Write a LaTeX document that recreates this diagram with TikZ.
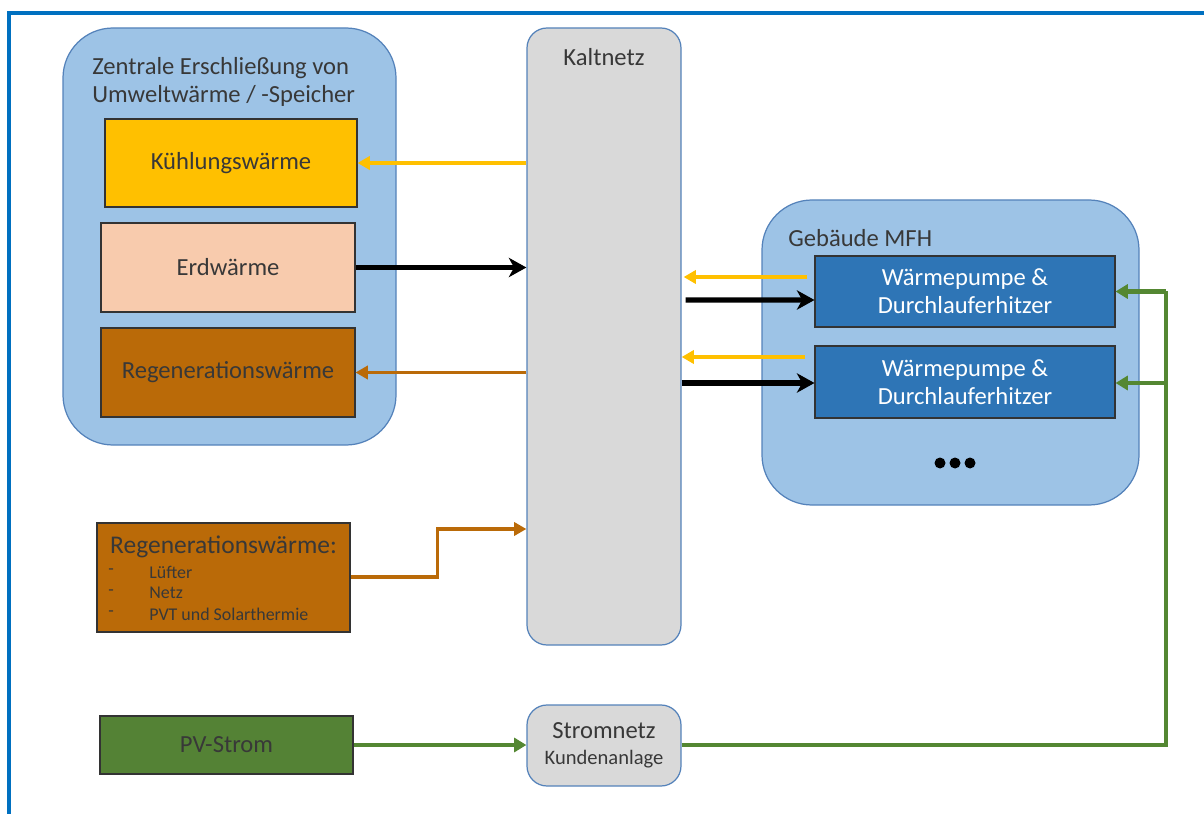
\documentclass[tikz,border=0pt]{standalone}
\usepackage{fontspec}
\setmainfont{Carlito}
\usetikzlibrary{arrows.meta,positioning,calc}
\definecolor{frameBlue}{RGB}{0,112,192}
\definecolor{groupFill}{RGB}{157,195,230}
\definecolor{groupLine}{RGB}{84,130,186}
\definecolor{netzGray}{RGB}{217,217,217}
\definecolor{coolYel}{RGB}{255,192,0}
\definecolor{erdPeach}{RGB}{248,203,173}
\definecolor{regBrown}{RGB}{186,106,8}
\definecolor{pvGreen}{RGB}{84,130,53}
\definecolor{lineGreen}{RGB}{84,135,50}
\definecolor{wpBlue}{RGB}{46,117,182}
\definecolor{ink}{RGB}{56,56,56}

\tikzset{
  wd/.style={minimum width=#1*0.02cm},
  ht/.style={minimum height=#1*0.02cm,inner sep=0pt},
  flat/.style={draw=black!80,line width=0.6pt,text=ink,align=center},
  group/.style={draw=groupLine,fill=groupFill,line width=0.7pt,rounded corners=1cm},
  netz/.style={draw=groupLine,fill=netzGray,line width=0.7pt,rounded corners=0.4cm,text=ink},
  big/.style={font=\fontsize{14}{16}\selectfont},
  small/.style={font=\fontsize{10.2}{12}\selectfont},
  yelArr/.style={coolYel,line width=2.1pt,-{Triangle[length=7pt,width=7.5pt]}},
  blkArr/.style={black,line width=2.9pt,-{Stealth[length=10pt,width=11pt,inset=3pt]}},
  brnArr/.style={regBrown,line width=2.1pt,-{Triangle[length=7pt,width=7.5pt]}},
  grnArr/.style={lineGreen,line width=2.3pt,-{Triangle[length=7pt,width=8pt]}},
}

\begin{document}
\begin{tikzpicture}[x=0.02cm,y=-0.02cm,big]
  \useasboundingbox (0,0) rectangle (1204,814);
  % frame
  \draw[frameBlue,line width=2.3pt] (9,814) -- (9,13) -- (1204,13);
  % containers
  \node[group,wd=333,ht=417] (zentral) at (229.5,236.5) {};
  \node[anchor=north west,align=left,text=ink,inner sep=0pt] (zentralT) at (92,57)
    {Zentrale Erschließung von\\Umweltwärme / -Speicher};
  \node[netz,wd=154,ht=617] (kalt) at (604,336.5) {};
  \node[text=ink] (kaltT) at (604,57) {Kaltnetz};
  \node[group,wd=377,ht=305] (geb) at (950.5,352.5) {};
  \node[anchor=west,text=ink,inner sep=0pt] (gebT) at (788,238) {Gebäude MFH};
  % boxes left
  \node[flat,fill=coolYel,wd=252,ht=88] (kuehl) at (231,163) {Kühlungswärme};
  \node[flat,fill=erdPeach,wd=254,ht=89] (erd) at (228,267.5) {Erdwärme};
  \node[flat,fill=regBrown,wd=254,ht=89] (regen) at (228,372.5) {Regenerationswärme};
  \node[flat,fill=regBrown,wd=253,ht=109] (regext) at (223.5,577.5) {};
  \node[text=ink,font=\fontsize{14.5}{16}\selectfont] (regextT) at (223.5,547) {Regenerationswärme:};
  \foreach [count=\i from 0] \t in {Lüfter,Netz,PVT und Solarthermie} {
    \node[small,text=ink,anchor=west,inner sep=0pt] (dash\i) at (108,{572+\i*21}) {-};
    \node[small,text=ink,anchor=west,inner sep=0pt] (item\i) at (149,{572+\i*21}) {\t};
  }
  \node[flat,fill=pvGreen,wd=253,ht=58] (pv) at (226.5,745) {PV-Strom};
  \node[netz,wd=154,ht=81,align=center] (strom) at (604,745.5)
    {Stromnetz\\[-1pt]{\fontsize{11.7}{13}\selectfont Kundenanlage}};
  % heat pumps
  \node[flat,fill=wpBlue,text=white,wd=300,ht=71] (wp1) at (965,291.5) {Wärmepumpe \&\\Durchlauferhitzer};
  \node[flat,fill=wpBlue,text=white,wd=300,ht=72] (wp2) at (965,382) {Wärmepumpe \&\\Durchlauferhitzer};
  \foreach \dx in {-15,0,15} \fill ($(955,463)+(\dx,0)$) circle (5.5);
  % heat connectors
  \draw[yelArr] (kuehl.east -| kalt.west) -- (kuehl.east);
  \draw[blkArr] (erd.east) -- (erd.east -| kalt.west);
  \draw[brnArr] (regen.east -| kalt.west) -- (regen.east);
  \draw[brnArr] (regext.east) ++(0,-0.5) -- ++(87,0) -- ++(0,-48) -- (kalt.west |- 0,529);
  \draw[yelArr] ($(wp1.west)+(-7,-14.5)$) -- ($(kalt.east |- 0,277)+(2,0)$);
  \draw[blkArr] ($(kalt.east |- 0,300)+(4,0)$) -- ($(wp1.west)+(0,8.5)$);
  \draw[yelArr] ($(wp2.west)+(-9,-25)$) -- (kalt.east |- 0,357);
  \draw[blkArr] (kalt.east |- 0,383) -- ($(wp2.west)+(0,1)$);
  % power connectors
  \coordinate (gnTop) at (1166,291.5);
  \coordinate (gnMid) at (1166,383);
  \draw[grnArr] (pv.east) -- (strom.west |- pv.east);
  \draw[lineGreen,line width=2.3pt] (strom.east |- 0,745) -| (gnTop);
  \draw[grnArr] (gnTop) -- (wp1.east);
  \draw[grnArr] (gnMid) -- (wp2.east |- gnMid);
\end{tikzpicture}
\end{document}
